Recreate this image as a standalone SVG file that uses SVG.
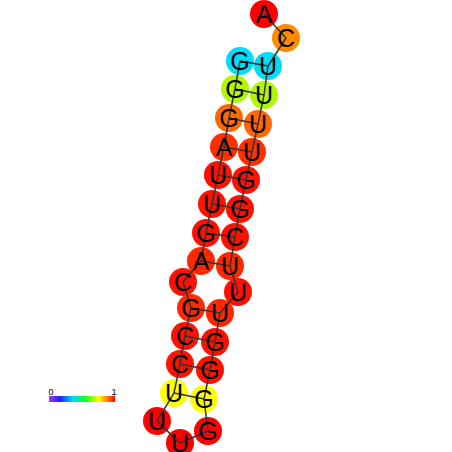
<svg xmlns="http://www.w3.org/2000/svg" width="452" height="452" viewBox="0 0 452 452">
<defs>
<style>
.n circle{stroke:none}
.n text{font-family:"Liberation Sans",Arial,sans-serif;font-size:25px;fill:#000;text-anchor:middle}
.bb line,.bp line{stroke:#333;stroke-width:1.5}
.lab{font-family:"Liberation Sans",Arial,sans-serif;font-size:9px;fill:#000;text-anchor:middle}
</style>
<linearGradient id="cb" x1="0" y1="0" x2="1" y2="0">
<stop offset="0" stop-color="#a040ff"/>
<stop offset="0.17" stop-color="#2020ff"/>
<stop offset="0.35" stop-color="#00d8ff"/>
<stop offset="0.55" stop-color="#10ff20"/>
<stop offset="0.75" stop-color="#ffff00"/>
<stop offset="0.88" stop-color="#ff8000"/>
<stop offset="1" stop-color="#ff0000"/>
</linearGradient>
</defs>
<rect width="452" height="452" fill="#fff"/>
<g id="nodes">
<g id="n1" class="n"><circle cx="240" cy="61" r="14" fill="#00dcf8"/></g>
<g id="n2" class="n"><circle cx="235" cy="89" r="14" fill="#b0f800"/></g>
<g id="n3" class="n"><circle cx="229" cy="118" r="14" fill="#ff6800"/></g>
<g id="n4" class="n"><circle cx="224" cy="147" r="14" fill="#ff3000"/></g>
<g id="n5" class="n"><circle cx="218" cy="175" r="14" fill="#ff1000"/></g>
<g id="n6" class="n"><circle cx="212" cy="204" r="14" fill="#ff1000"/></g>
<g id="n7" class="n"><circle cx="206" cy="233" r="14" fill="#ff1000"/></g>
<g id="n8" class="n"><circle cx="201" cy="261" r="14" fill="#ff2800"/></g>
<g id="n9" class="n"><circle cx="183" cy="282" r="14" fill="#ff1000"/></g>
<g id="n10" class="n"><circle cx="191" cy="308" r="14" fill="#ff2800"/></g>
<g id="n11" class="n"><circle cx="185" cy="336" r="14" fill="#ff1000"/></g>
<g id="n12" class="n"><circle cx="180" cy="364" r="14" fill="#ff1000"/></g>
<g id="n13" class="n"><circle cx="174" cy="393" r="14" fill="#ffff00"/></g>
<g id="n14" class="n"><circle cx="157" cy="421" r="14" fill="#ff0000"/></g>
<g id="n15" class="n"><circle cx="180" cy="443" r="14" fill="#ff0000"/></g>
<g id="n16" class="n"><circle cx="208" cy="431" r="14" fill="#ff0000"/></g>
<g id="n17" class="n"><circle cx="204" cy="399" r="14" fill="#ffff00"/></g>
<g id="n18" class="n"><circle cx="210" cy="370" r="14" fill="#ff1000"/></g>
<g id="n19" class="n"><circle cx="215" cy="342" r="14" fill="#ff1000"/></g>
<g id="n20" class="n"><circle cx="220" cy="313" r="14" fill="#ff2800"/></g>
<g id="n21" class="n"><circle cx="238" cy="292" r="14" fill="#ff1000"/></g>
<g id="n22" class="n"><circle cx="230" cy="266" r="14" fill="#ff2800"/></g>
<g id="n23" class="n"><circle cx="235" cy="237" r="14" fill="#ff1000"/></g>
<g id="n24" class="n"><circle cx="240" cy="209" r="14" fill="#ff1000"/></g>
<g id="n25" class="n"><circle cx="246" cy="180" r="14" fill="#ff1000"/></g>
<g id="n26" class="n"><circle cx="252" cy="152" r="14" fill="#ff3000"/></g>
<g id="n27" class="n"><circle cx="258" cy="124" r="14" fill="#ff6800"/></g>
<g id="n28" class="n"><circle cx="264" cy="95" r="14" fill="#b0f800"/></g>
<g id="n29" class="n"><circle cx="268" cy="66" r="14" fill="#00dcf8"/></g>
<g id="n30" class="n"><circle cx="286" cy="38" r="14" fill="#ff8c00"/></g>
<g id="n31" class="n"><circle cx="264" cy="14" r="14" fill="#ff0000"/></g>
</g>
<g id="connectors">
<g class="bb">
<polyline points="240,61 235,89 229,118 224,147 218,175 212,204 206,233 201,261 183,282 191,308 185,336 180,364 174,393 157,421 180,443 208,431 204,399 210,370 215,342 220,313 238,292 230,266 235,237 240,209 246,180 252,152 258,124 264,95 268,66 286,38 264,14" fill="none" stroke="#333" stroke-width="1.5"/>
</g>
<g class="bp">
<line x1="240" y1="61" x2="268" y2="66"/>
<line x1="235" y1="89" x2="264" y2="95"/>
<line x1="229" y1="118" x2="258" y2="124"/>
<line x1="224" y1="147" x2="252" y2="152"/>
<line x1="218" y1="175" x2="246" y2="180"/>
<line x1="212" y1="204" x2="240" y2="209"/>
<line x1="206" y1="233" x2="235" y2="237"/>
<line x1="201" y1="261" x2="230" y2="266"/>
<line x1="191" y1="308" x2="220" y2="313"/>
<line x1="185" y1="336" x2="215" y2="342"/>
<line x1="180" y1="364" x2="210" y2="370"/>
<line x1="174" y1="393" x2="204" y2="399"/>
</g>
</g>
<g id="letters" class="n">
<text x="240" y="70">G</text>
<text x="235" y="98">G</text>
<text x="229" y="127">G</text>
<text x="224" y="156">A</text>
<text x="218" y="184">U</text>
<text x="212" y="213">U</text>
<text x="206" y="242">G</text>
<text x="201" y="270">A</text>
<text x="183" y="291">C</text>
<text x="191" y="317">G</text>
<text x="185" y="345">C</text>
<text x="180" y="373">C</text>
<text x="174" y="402">U</text>
<text x="157" y="430">U</text>
<text x="180" y="452">U</text>
<text x="208" y="440">G</text>
<text x="204" y="408">G</text>
<text x="210" y="379">G</text>
<text x="215" y="351">G</text>
<text x="220" y="322">U</text>
<text x="238" y="301">U</text>
<text x="230" y="275">U</text>
<text x="235" y="246">C</text>
<text x="240" y="218">G</text>
<text x="246" y="189">G</text>
<text x="252" y="161">U</text>
<text x="258" y="133">U</text>
<text x="264" y="104">U</text>
<text x="268" y="75">U</text>
<text x="286" y="47">C</text>
<text x="264" y="23">A</text>
</g>
<g id="colorbar">
<rect x="49" y="396" width="66" height="6" fill="url(#cb)"/>
<text class="lab" x="51" y="395">0</text>
<text class="lab" x="114" y="395">1</text>
</g>
</svg>
